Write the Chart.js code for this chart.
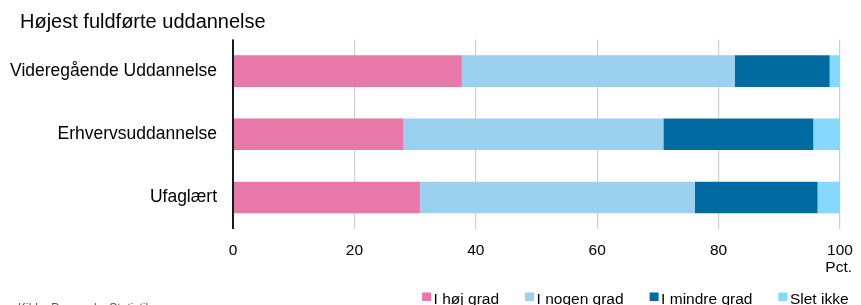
<!DOCTYPE html>
<html><head><meta charset="utf-8">
<script src="https://cdn.jsdelivr.net/npm/chart.js@4/dist/chart.umd.min.js"></script>
<style>html,body{margin:0;padding:0;background:#fff;overflow:hidden}#wrap{width:861px;height:305px;position:relative}</style>
</head><body><div id="wrap"><canvas id="c" width="861" height="305"></canvas></div>
<script>
const categories = ["Videregående Uddannelse", "Erhvervsuddannelse", "Ufaglært"];
const seriesNames = ["I høj grad", "I nogen grad", "I mindre grad", "Slet ikke"];
const hojGrad = [37.7, 28.1, 30.8];
const nogenGrad = [45.0, 42.8, 45.3];
const mindreGrad = [15.6, 24.7, 20.2];
const sletIkke = [1.7, 4.4, 3.7];
const xTicks = [0, 20, 40, 60, 80, 100];
const colors = ["#E878A8", "#99D1EF", "#006BA1", "#87D8FD"];
const titleText = "Højest fuldførte uddannelse";
const sourceText = "Kilde: Danmarks Statistik";
const unitText = "Pct.";

const FONT = "'Liberation Sans', Arial, sans-serif";
Chart.defaults.font.family = FONT;
Chart.defaults.color = "#000";

const extras = {
  id: "extras",
  afterDraw(chart) {
    const ctx = chart.ctx, a = chart.chartArea;
    ctx.save();
    ctx.fillStyle = "#000";
    // title
    ctx.font = "20px " + FONT;
    ctx.textBaseline = "alphabetic";
    ctx.textAlign = "left";
    ctx.fillText(titleText, 20, 28);
    // y axis line
    ctx.strokeStyle = "#1a1a1a";
    ctx.lineWidth = 2;
    ctx.beginPath();
    ctx.moveTo(a.left, a.top);
    ctx.lineTo(a.left, a.bottom);
    ctx.stroke();
    // unit
    ctx.font = "15.5px " + FONT;
    ctx.textAlign = "right";
    ctx.textBaseline = "middle";
    ctx.fillText(unitText, a.right + 12, 268);
    // legend (right aligned), drawn from dataset labels / colors
    ctx.textBaseline = "alphabetic";
    ctx.textAlign = "left";
    const ds = chart.data.datasets;
    const box = 9, gap = 2.5, spacing = 26;
    const widths = ds.map(d => ctx.measureText(d.label).width);
    let total = 0;
    widths.forEach((w, i) => { total += box + gap + w + (i < widths.length - 1 ? spacing : 0); });
    let x = 848.5 - total;
    ds.forEach((d, i) => {
      ctx.fillStyle = d.backgroundColor;
      ctx.fillRect(x, 292.5, box, 8.5);
      ctx.fillStyle = "#000";
      ctx.fillText(d.label, x + box + gap, 304);
      x += box + gap + widths[i] + spacing;
    });
    // source (clipped by bottom edge)
    ctx.font = "12px " + FONT;
    ctx.fillStyle = "#555";
    ctx.fillText(sourceText, 18, 312);
    ctx.restore();
  }
};

const data = {
  labels: categories,
  datasets: [hojGrad, nogenGrad, mindreGrad, sletIkke].map((d, i) => ({
    label: seriesNames[i],
    data: d,
    backgroundColor: colors[i],
    borderWidth: 0,
    barPercentage: 0.5,
    categoryPercentage: 1.0
  }))
};

new Chart(document.getElementById("c"), {
  type: "bar",
  data,
  plugins: [extras],
  options: {
    indexAxis: "y",
    responsive: false,
    animation: false,
    layout: { padding: { top: 39.5, right: 21, left: 0, bottom: 36 } },
    scales: {
      x: {
        stacked: true,
        min: 0, max: 100,
        afterBuildTicks(s) { s.ticks = xTicks.map(v => ({ value: v })); },
        grid: { color: "#d0d0d0", lineWidth: 1.2, drawTicks: false },
        border: { display: false },
        ticks: { font: { size: 15.5 }, padding: 12, color: "#000" },
        afterFit(s) { s.height = 40; s.paddingLeft = 0; s.paddingRight = 0; }
      },
      y: {
        stacked: true,
        grid: { display: false, drawTicks: false },
        border: { display: false },
        ticks: { font: { size: 17.5 }, padding: 16, color: "#000" },
        afterFit(s) { s.width = 233; }
      }
    },
    plugins: {
      legend: { display: false },
      tooltip: { enabled: false }
    }
  }
});
</script></body></html>
